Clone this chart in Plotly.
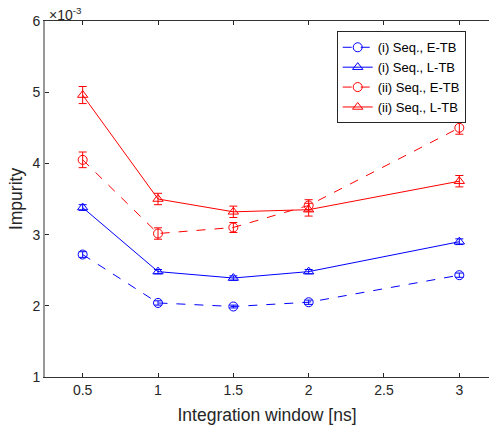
import plotly.graph_objects as go

x_vals = [0.5, 1, 1.5, 2, 3]

i_etb = [2.72, 2.04, 1.99, 2.05, 2.43]
i_etb_err = [0.04, 0.03, 0.02, 0.03, 0.03]
i_ltb = [3.38, 2.48, 2.39, 2.48, 2.90]
i_ltb_err = [0.04, 0.03, 0.03, 0.03, 0.04]
ii_etb = [4.05, 3.015, 3.10, 3.41, 4.50]
ii_etb_err = [0.11, 0.08, 0.07, 0.08, 0.09]
ii_ltb = [4.96, 3.50, 3.32, 3.35, 3.75]
ii_ltb_err = [0.12, 0.08, 0.08, 0.09, 0.08]

names = ["(i) Seq., E-TB", "(i) Seq., L-TB", "(ii) Seq., E-TB", "(ii) Seq., L-TB"]
series = [i_etb, i_ltb, ii_etb, ii_ltb]
errors = [i_etb_err, i_ltb_err, ii_etb_err, ii_ltb_err]
colors = ["#0000ff", "#0000ff", "#ff0000", "#ff0000"]
dashes = ["dash", "solid", "dash", "solid"]
symbols = ["circle-open", "triangle-up-open", "circle-open", "triangle-up-open"]

FONT = "Liberation Sans, Arial, Helvetica, sans-serif"

fig = go.Figure()
for name, y, e, c, d, s in zip(names, series, errors, colors, dashes, symbols):
    fig.add_trace(go.Scatter(
        x=x_vals, y=y, name=name,
        mode="lines+markers",
        line=dict(color=c, width=1, dash=d),
        marker=dict(symbol=s, size=9, color=c, line=dict(color=c, width=1)),
        error_y=dict(type="data", array=e, visible=True, color=c, thickness=1, width=4),
    ))

fig.update_layout(
    width=489, height=429,
    margin=dict(l=45, r=0, t=21, b=52),
    paper_bgcolor="white", plot_bgcolor="white",
    font=dict(family=FONT, size=14, color="#262626"),
    showlegend=True,
    legend=dict(
        x=0.657, y=0.971, xanchor="left", yanchor="top",
        bgcolor="white", bordercolor="#262626", borderwidth=1,
        font=dict(family=FONT, size=13, color="#000000"),
        tracegroupgap=0, itemwidth=30,
    ),
    xaxis=dict(
        range=[0.25, 3.197], tickvals=[0.5, 1, 1.5, 2, 2.5, 3],
        ticktext=["0.5", "1", "1.5", "2", "2.5", "3"],
        ticks="inside", ticklen=4, tickcolor="#262626", tickwidth=1,
        showline=True, linecolor="#333333", linewidth=1, mirror="ticks",
        showgrid=False, zeroline=False,
        title=dict(text="Integration window [ns]", font=dict(size=17.5), standoff=11),
        tickfont=dict(size=14, color="#262626"),
    ),
    yaxis=dict(
        range=[1, 6], tickvals=[1, 2, 3, 4, 5, 6],
        ticks="inside", ticklen=4, tickcolor="#262626", tickwidth=1,
        showline=True, linecolor="#999999", linewidth=2, mirror=False,
        showgrid=False, zeroline=False,
        title=dict(text="Impurity", font=dict(size=17.5), standoff=5),
        tickfont=dict(size=14, color="#262626"),
    ),
    annotations=[dict(
        text="×10<sup>-3</sup>", xref="paper", yref="paper", x=0.005, y=1.0,
        xanchor="left", yanchor="bottom", showarrow=False, yshift=-4,
        font=dict(family=FONT, size=14, color="#262626"),
    )],
)

fig.write_html("out.html")
